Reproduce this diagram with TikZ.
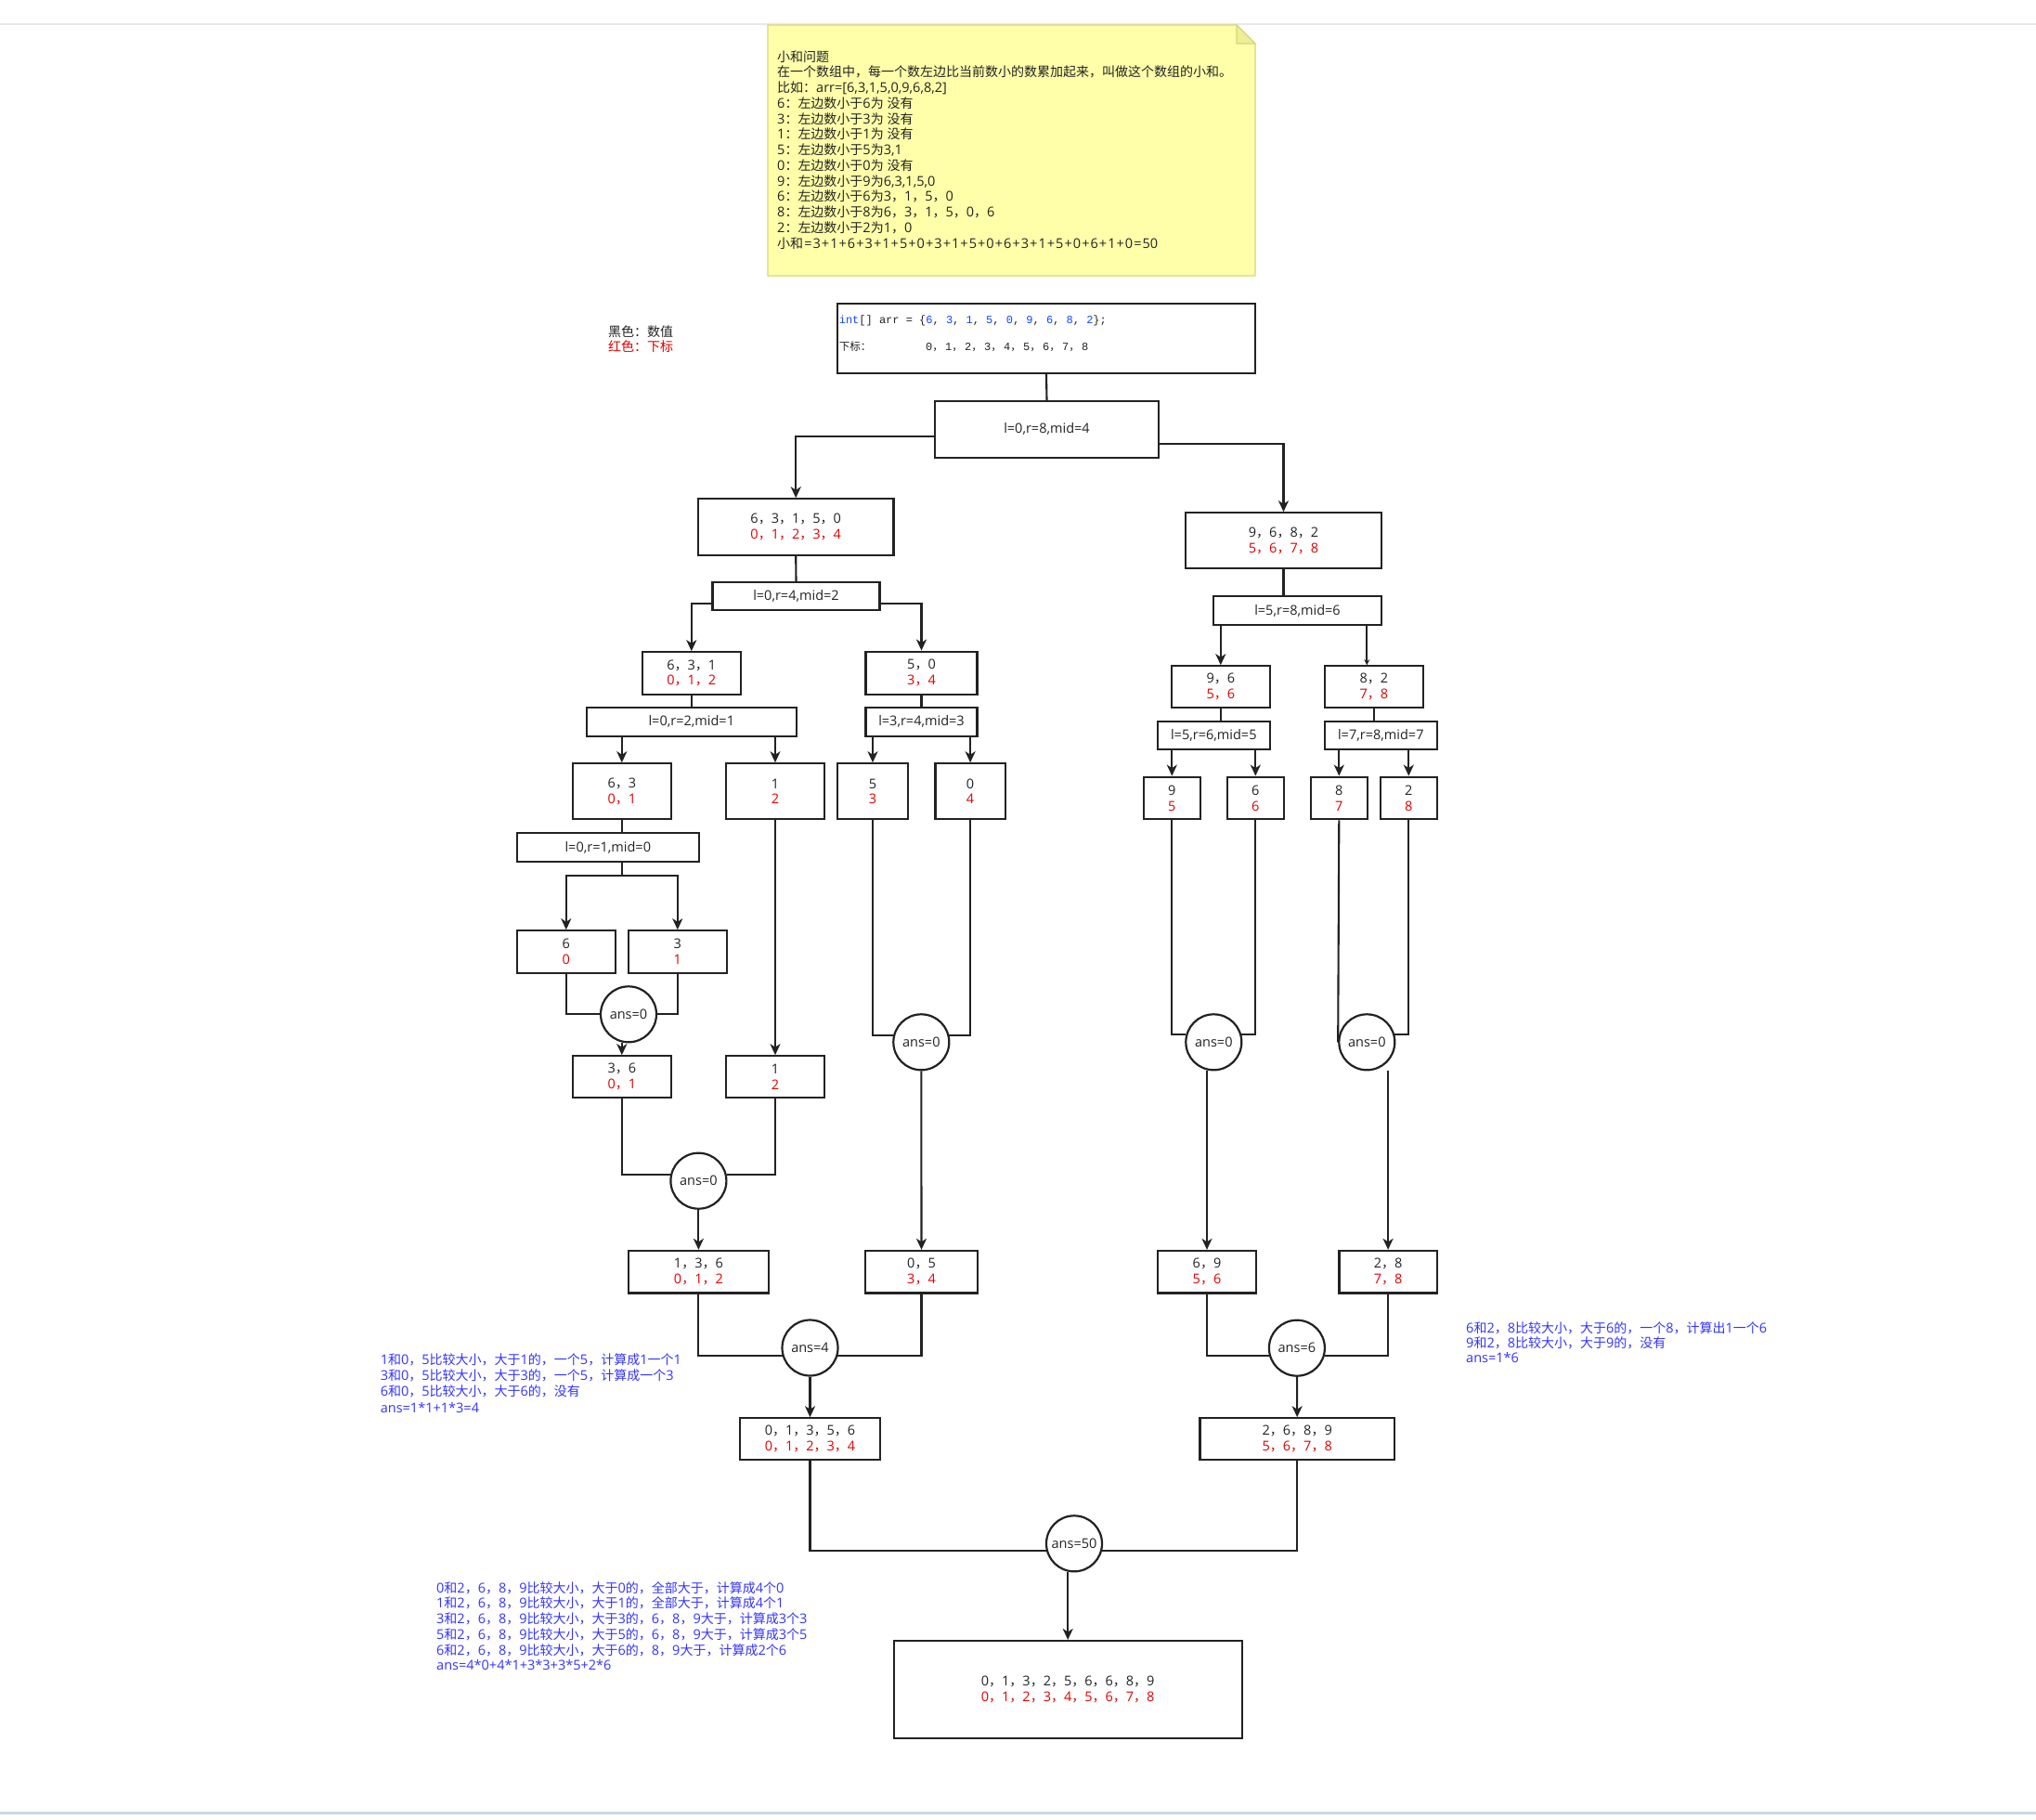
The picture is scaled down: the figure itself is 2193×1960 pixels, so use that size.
\documentclass[tikz,border=0pt]{standalone}
\usepackage{fontspec}
\setmainfont{Open Sans}
\newfontfamily\zhfont{Noto Sans CJK SC}[Scale=0.9655]
\newfontfamily\monofont{Liberation Mono}
\usetikzlibrary{arrows.meta,calc}
\XeTeXinterchartokenstate=1
\chardef\cjkcls=7
\newcount\cjkc
\def\setcjkrange#1#2{\cjkc=#1\relax\loop\XeTeXcharclass\cjkc=\cjkcls\relax\ifnum\cjkc<#2\relax\advance\cjkc by 1\relax\repeat}
\setcjkrange{"3000}{"303F}
\setcjkrange{"4E00}{"9FFF}
\setcjkrange{"FF00}{"FFEF}
\XeTeXinterchartoks 0 \cjkcls = {\begingroup\zhfont}
\XeTeXinterchartoks 4095 \cjkcls = {\begingroup\zhfont}
\XeTeXinterchartoks \cjkcls 0 = {\endgroup}
\XeTeXinterchartoks \cjkcls 4095 = {\endgroup}

\definecolor{lnc}{RGB}{34,34,34}
\definecolor{tx}{RGB}{34,34,34}
\definecolor{rd}{RGB}{224,0,0}
\definecolor{bl}{RGB}{51,51,255}
\definecolor{kw}{RGB}{20,70,255}
\definecolor{notefill}{RGB}{255,255,170}
\definecolor{noteline}{RGB}{214,214,130}
\definecolor{notefold}{RGB}{238,238,150}
\definecolor{topline}{RGB}{232,232,232}
\definecolor{botline}{RGB}{205,214,228}

\newcommand\rd[1]{\textcolor{rd}{#1}}
\newcommand\kb[1]{\textcolor{kw}{#1}}
\newcommand\dc{\makebox[13.8pt][l]{，}}
\newcommand\pl{\kern1.05pt+\kern1.05pt}
\newcommand\eq{\kern1.05pt=\kern1.05pt}

\tikzset{
  bx/.style={draw=lnc, line width=2.2pt, rectangle, inner sep=0pt, align=center, text=tx,
    font=\fontsize{14.5}{16.7}\selectfont},
  cir/.style={draw=lnc, line width=2.2pt, circle, minimum size=60pt, inner sep=0pt, text=tx,
    font=\fontsize{14.5}{16.7}\selectfont},
  conn/.style={draw=lnc, line width=2.1pt},
  arr/.style={conn, -{Stealth[length=12pt,width=11pt,inset=3.5pt]}},
  arrs/.style={conn, -{Stealth[length=6pt,width=6pt,inset=2pt]}},
  tl/.style={anchor=base west, inner sep=0pt, text=tx, font=\fontsize{14.5}{16.7}\selectfont},
  btl/.style={tl, text=bl},
}
\newcommand\bxn[6]{\node[bx, minimum width=#4, minimum height=#5] (#1) at (#2,#3) {#6};}
\newcommand\cirn[4]{\node[cir] (#1) at (#2,#3) {#4};}
\newcommand\tln[4]{\node[tl] (#1) at (#2,#3) {#4};}
\newcommand\btln[4]{\node[btl] (#1) at (#2,#3) {#4};}

\begin{document}
\begin{tikzpicture}[x=1pt,y=-1pt]
\useasboundingbox (0,0) rectangle (2193,1960);
\fill[white] (0,0) rectangle (2193,1960);
\draw[topline, line width=1.5pt] (0,26) -- (2193,26);
\draw[botline, line width=3pt] (0,1952) -- (2193,1952);

% note
\filldraw[fill=notefill, draw=noteline, line width=1.2pt] (827,27) -- (1332,27) -- (1352,47) -- (1352,297) -- (827,297) -- cycle;
\filldraw[fill=notefold, draw=noteline, line width=1.2pt] (1332,27) -- (1332,47) -- (1352,47) -- cycle;
\tln{n1}{837}{66.2}{小和问题}
\tln{n2}{837}{82.95}{在一个数组中，每一个数左边比当前数小的数累加起来，叫做这个数组的小和。}
\tln{n3}{837}{99.7}{比如：arr=[6,3,1,5,0,9,6,8,2]}
\tln{n4}{837}{116.45}{6：左边数小于6为 没有}
\tln{n5}{837}{133.2}{3：左边数小于3为 没有}
\tln{n6}{837}{149.95}{1：左边数小于1为 没有}
\tln{n7}{837}{166.7}{5：左边数小于5为3,1}
\tln{n8}{837}{183.45}{0：左边数小于0为 没有}
\tln{n9}{837}{200.2}{9：左边数小于9为6,3,1,5,0}
\tln{n10}{837}{216.95}{6：左边数小于6为3，1，5，0}
\tln{n11}{837}{233.7}{8：左边数小于8为6，3，1，5，0，6}
\tln{n12}{837}{250.45}{2：左边数小于2为1，0}
\tln{n13}{837}{267.2}{小和\eq3\pl1\pl6\pl3\pl1\pl5\pl0\pl3\pl1\pl5\pl0\pl6\pl3\pl1\pl5\pl0\pl6\pl1\pl0\eq50}

% legend
\tln{lg1}{655}{362.2}{黑色：数值}
\node[tl, text=rd] (lg2) at (655,378.2) {红色：下标};

% array box
\bxn{arr}{1127}{364.5}{450}{75}{}
\node[tl, font=\monofont\fontsize{12}{14}\selectfont] (code) at (903.6,348.3)
  {\kb{int}[] arr = \{\kb{6}, \kb{3}, \kb{1}, \kb{5}, \kb{0}, \kb{9}, \kb{6}, \kb{8}, \kb{2}\};};
\node[tl, font=\fontsize{12}{14}\selectfont] (xb) at (903.6,377.5) {下标：};
\node[tl, font=\monofont\fontsize{12}{14}\selectfont] (xbd) at (997,377.5) {0\dc1\dc2\dc3\dc4\dc5\dc6\dc7\dc8};

% boxes
\bxn{m0}{1127.5}{462.3}{241}{60.7}{l=0,r=8,mid=4}
\bxn{a1}{857.2}{567.5}{210.4}{60.4}{6，3，1，5，0\\\rd{0，1，2，3，4}}
\bxn{b1}{1382.5}{582.3}{210.5}{60}{9，6，8，2\\\rd{5，6，7，8}}
\bxn{m1}{857.5}{642.3}{180}{30}{l=0,r=4,mid=2}
\bxn{m2}{1397.5}{657.5}{180.6}{30.4}{l=5,r=8,mid=6}
\bxn{a2}{744.8}{725}{105.7}{45.4}{6，3，1\\\rd{0，1，2}}
\bxn{a3}{992.5}{724.7}{120}{46}{5，0\\\rd{3，4}}
\bxn{b2}{1314.8}{739.8}{105.7}{45}{9，6\\\rd{5，6}}
\bxn{b3}{1479.8}{739.8}{105.7}{45}{8，2\\\rd{7，8}}
\bxn{m3}{744.8}{777.3}{225.7}{30.7}{l=0,r=2,mid=1}
\bxn{m4}{992.5}{777.3}{120}{30.7}{l=3,r=4,mid=3}
\bxn{m5}{1307.3}{792.3}{120.7}{30}{l=5,r=6,mid=5}
\bxn{m6}{1487.3}{792.3}{120.7}{30}{l=7,r=8,mid=7}
\bxn{a4}{669.8}{852.3}{105.7}{60}{6，3\\\rd{0，1}}
\bxn{a5}{835}{852.3}{105.4}{60}{1\\\rd{2}}
\bxn{a6}{940}{852.3}{75.4}{60}{5\\\rd{3}}
\bxn{a7}{1045.1}{852.3}{75.2}{60}{0\\\rd{4}}
\bxn{b4}{1262.3}{859.5}{60.7}{45.6}{9\\\rd{5}}
\bxn{b5}{1352.3}{859.5}{60.7}{45.6}{6\\\rd{6}}
\bxn{b6}{1442.3}{859.5}{60.7}{45.6}{8\\\rd{7}}
\bxn{b7}{1517.3}{859.5}{60.7}{45.6}{2\\\rd{8}}
\bxn{m7}{654.8}{912.5}{195.7}{30.4}{l=0,r=1,mid=0}
\bxn{a8}{609.8}{1025}{105.7}{45.4}{6\\\rd{0}}
\bxn{a9}{729.8}{1025}{105.7}{45.4}{3\\\rd{1}}
\bxn{a10}{669.8}{1159.8}{105.7}{45}{3，6\\\rd{0，1}}
\bxn{a11}{835}{1159.8}{105.4}{45}{1\\\rd{2}}
\bxn{a12}{752.4}{1369.7}{150.8}{45.5}{1，3，6\\\rd{0，1，2}}
\bxn{a13}{992.5}{1369.7}{120.5}{45.5}{0，5\\\rd{3，4}}
\bxn{b8}{1300}{1369.7}{106}{45.5}{6，9\\\rd{5，6}}
\bxn{b9}{1495.1}{1369.7}{105.4}{45.5}{2，8\\\rd{7，8}}
\bxn{a14}{872.5}{1549.8}{150.3}{45}{0，1，3，5，6\\\rd{0，1，2，3，4}}
\bxn{b10}{1397.2}{1549.8}{209.5}{45}{2，6，8，9\\\rd{5，6，7，8}}
\bxn{fin}{1150.2}{1819.7}{375}{105.3}{0，1，3，2，5，6，6，8，9\\\rd{0，1，2，3，4，5，6，7，8}}

% circles
\cirn{c1}{677}{1092.3}{ans=0}
\cirn{c2}{992.3}{1122.3}{ans=0}
\cirn{c3}{1307.3}{1122.3}{ans=0}
\cirn{c4}{1472.3}{1122.3}{ans=0}
\cirn{c5}{752.4}{1271.7}{ans=0}
\cirn{c6}{872.5}{1451.5}{ans=4}
\cirn{c7}{1396.9}{1451.7}{ans=6}
\cirn{c8}{1157}{1662.3}{ans=50}

% annotations
\btln{t1}{409.6}{1469.2}{1和0，5比较大小，大于1的，一个5，计算成1一个1}
\btln{t2}{409.6}{1486.5}{3和0，5比较大小，大于3的，一个5，计算成一个3}
\btln{t3}{409.6}{1503.8}{6和0，5比较大小，大于6的，没有}
\btln{t4}{409.6}{1521}{ans=1*1+1*3=4}
\btln{u1}{470}{1715.2}{0和2，6，8，9比较大小，大于0的，全部大于，计算成4个0}
\btln{u2}{470}{1731.9}{1和2，6，8，9比较大小，大于1的，全部大于，计算成4个1}
\btln{u3}{470}{1748.6}{3和2，6，8，9比较大小，大于3的，6，8，9大于，计算成3个3}
\btln{u4}{470}{1765.3}{5和2，6，8，9比较大小，大于5的，6，8，9大于，计算成3个5}
\btln{u5}{470}{1782}{6和2，6，8，9比较大小，大于6的，8，9大于，计算成2个6}
\btln{u6}{470}{1798.7}{ans=4*0+4*1+3*3+3*5+2*6}
\btln{v1}{1579}{1435.2}{6和2，8比较大小，大于6的，一个8，计算出1一个6}
\btln{v2}{1579}{1451.2}{9和2，8比较大小，大于9的，没有}
\btln{v3}{1579}{1467}{ans=1*6}

% connectors
\draw[conn] (arr.south) -- (m0.north);
\draw[arr] ($(m0.west)+(0,7.7)$) -| (a1.north);
\draw[arr] ($(m0.east)+(0,15.4)$) -| (b1.north);
\draw[conn] (a1.south) -- (m1.north);
\draw[arr] ($(m1.west)+(0,7.7)$) -| (a2.north);
\draw[arr] ($(m1.east)+(0,7.7)$) -| (a3.north);
\draw[conn] (b1.south) -- (b1.south |- m2.north);
\draw[arr] (m2.south -| b2.north) -- (b2.north);
\draw[arrs] ($(m2.south -| b3.north)+(-7.5,0)$) -- ($(b3.north)+(-7.5,0)$);
\draw[conn] (a2.south) -- (m3.north);
\draw[conn] (a3.south) -- (m4.north);
\draw[conn] (b2.south) -- (b2.south |- m5.north);
\draw[conn] (b3.south) -- (b3.south |- m6.north);
\draw[arr] (m3.south -| a4.north) -- (a4.north);
\draw[arr] (m3.south -| a5.north) -- (a5.north);
\draw[arr] (m4.south -| a6.north) -- (a6.north);
\draw[arr] (m4.south -| a7.north) -- (a7.north);
\draw[arr] (m5.south -| b4.north) -- (b4.north);
\draw[arr] (m5.south -| b5.north) -- (b5.north);
\draw[arr] (m6.south -| b6.north) -- (b6.north);
\draw[arr] (m6.south -| b7.north) -- (b7.north);
\draw[conn] (a4.south) -- (a4.south |- m7.north);
\coordinate (sp) at (669.8,942.7);
\draw[conn] (m7.south -| sp) -- (sp);
\draw[arr] (sp) -| (a8.north);
\draw[arr] (sp) -| (a9.north);
\draw[conn] (a8.south) |- (c1.west);
\draw[conn] (a9.south) |- (c1.east);
\draw[arr] (c1.south -| a10.north) -- (a10.north);
\draw[arr] (a5.south) -- (a11.north);
\draw[conn] (a6.south) |- (c2.166);
\draw[conn] (a7.south) |- (c2.14);
\draw[conn] (b4.south) |- (c3.164);
\draw[conn] (b5.south) |- (c3.16);
\draw[conn] (b6.south) -- (c4.west);
\draw[conn] (b7.south) |- (c4.16);
\draw[conn] (a10.south) |- (c5.167);
\draw[conn] (a11.south) |- (c5.13);
\draw[arr] (c5) -- (a12.north);
\draw[arr] (c2) -- (a13.north);
\draw[arr] (c3.south -| b8.north) -- (b8.north);
\draw[arr] (c4.south -| b9.north) -- (b9.north);
\draw[conn] (a12.south) |- (c6.196);
\draw[conn] (a13.south) |- (c6.344);
\draw[conn] (b8.south) |- (c7.195);
\draw[conn] (b9.south) |- (c7.345);
\draw[arr] (c6) -- (a14.north);
\draw[arr] (c7) -- (b10.north);
\draw[conn] (a14.south) |- (c8.195);
\draw[conn] (b10.south) |- (c8.345);
\draw[arr] (c8.south -| fin.north) -- (fin.north);
\end{tikzpicture}
\end{document}
